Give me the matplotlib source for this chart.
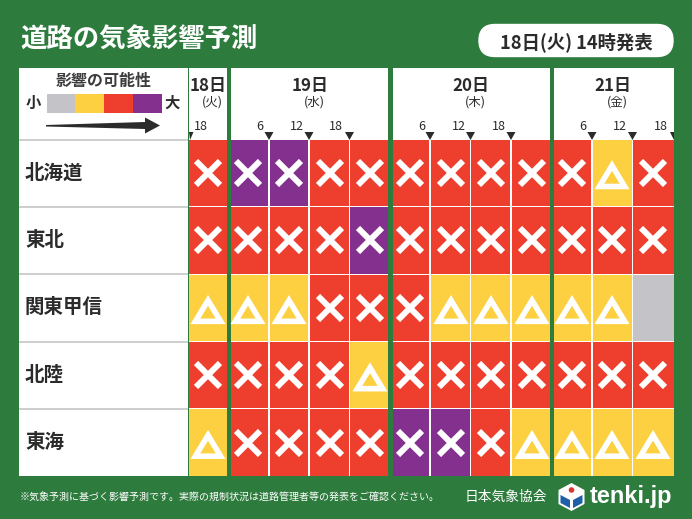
import matplotlib
matplotlib.use("Agg")
import matplotlib.pyplot as plt
from matplotlib.patches import Rectangle, FancyBboxPatch, Polygon, Circle
from matplotlib.path import Path

plt.rcParams['font.family'] = ['Noto Sans CJK JP', 'DejaVu Sans']

# ---- data ----
regions = ['北海道', '東北', '関東甲信', '北陸', '東海']
levels_hokkaido = [2, 3, 3, 2, 2, 2, 2, 2, 2, 2, 1, 2]
levels_tohoku = [2, 2, 2, 2, 3, 2, 2, 2, 2, 2, 2, 2]
levels_kanto = [1, 1, 1, 2, 2, 2, 1, 1, 1, 1, 1, 0]
levels_hokuriku = [2, 2, 2, 2, 1, 2, 2, 2, 2, 2, 2, 2]
levels_tokai = [1, 2, 2, 2, 2, 3, 3, 2, 1, 1, 1, 1]
all_levels = [levels_hokkaido, levels_tohoku, levels_kanto, levels_hokuriku, levels_tokai]
day_labels = ['18日', '19日', '20日', '21日']
weekday_labels = ['(火)', '(水)', '(木)', '(金)']
hour_labels = ['18', '6', '12', '18', '6', '12', '18', '6', '12', '18']
legend_title = '影響の可能性'
title = '道路の気象影響予測'
issued = '18日(火) 14時発表'
footnote = '※気象予測に基づく影響予測です。実際の規制状況は道路管理者等の発表をご確認ください。'
org = '日本気象協会'
brand = 'tenki.jp'

# ---- style ----
GREEN = '#2e7b3e'
COLORS = {0: '#c4c4c8', 1: '#fdd042', 2: '#ee3f2e', 3: '#83308f'}
DARK = '#2b2b2b'
W = 692
H = 519

fig = plt.figure(figsize=(W / 100, H / 100), dpi=100, facecolor=GREEN)
ax = fig.add_axes([0, 0, 1, 1])
ax.set_xlim(0, W)
ax.set_ylim(H, 0)
ax.axis('off')

# slot edges in pixels
edges = [(189, 226.5), (231, 269), (269, 309), (309, 349.5), (349.5, 388),
         (392.5, 430), (430, 470.5), (470.5, 511), (511, 549.5),
         (554, 592), (592, 632.5), (632.5, 674)]
centers = [208, 248, 289, 330, 370, 410, 451, 491, 532, 572, 612, 653]
day_blocks = [(189, 226.5), (231, 388), (392.5, 549.5), (554, 674)]
day_cx = [208, 310, 471, 612.5]
tops = [140, 207.2, 274.7, 342.2, 409.4]
bots = [206, 273.5, 341, 408.2, 476]

tri_path = Path([(-1, -0.83), (1, -0.83), (0, 0.83), (-1, -0.83)], closed=True)

# title
ax.text(20, 40, title, color='white', fontsize=19, fontweight='bold', va='center', ha='left')
# issued pill
ax.add_patch(FancyBboxPatch((479, 24.5), 194, 32, boxstyle='round,pad=0,rounding_size=16',
                            fc='white', ec='white', lw=1))
ax.text(576, 42.5, issued, color=DARK, fontsize=13.2, fontweight='bold', va='center', ha='center')

# left panel
ax.add_patch(Rectangle((19, 67.5), 169, 408.5, fc='white', ec='none'))
for y in [139.5, 206.5, 274, 341.5, 408.5]:
    ax.plot([19, 188], [y, y], color='#c6c6c6', lw=1.2, solid_capstyle='butt')
# legend
ax.text(104, 81, legend_title, color='#3c3c3c', fontsize=11.5, fontweight='bold', ha='center', va='center')
ax.text(33, 103, '小', color=DARK, fontsize=11, fontweight='bold', ha='center', va='center')
ax.text(172, 103, '大', color=DARK, fontsize=11, fontweight='bold', ha='center', va='center')
for i, lev in enumerate(sorted(COLORS)):
    ax.add_patch(Rectangle((46.5 + i * 28.8, 94), 28.8, 19, fc=COLORS[lev], ec='none'))
ax.add_patch(Polygon([(46, 125), (145, 122), (145, 117.5), (160, 125.5), (145, 133.5), (145, 129), (46, 126.5)],
                     fc=DARK, ec='none'))

# header blocks and white grid backing
for (x0, x1), d, wd, cx in zip(day_blocks, day_labels, weekday_labels, day_cx):
    ax.add_patch(Rectangle((x0, 67.5), x1 - x0, 408.5, fc='white', ec='none'))
    ax.text(cx, 85.5, d, color=DARK, fontsize=12.2, fontweight='bold', ha='center', va='center')
    ax.text(cx + 4.5, 102.5, wd, color=DARK, fontsize=9, ha='center', va='center')

# hour ticks
tick_x = [190, 269, 309, 349.5, 430, 470.5, 511, 592, 632.5, 674]
lab_x = [201, 260, 297, 336, 422, 459, 499, 583, 620, 661]
for tx, lx_, lab in zip(tick_x, lab_x, hour_labels):
    ax.text(lx_, 126.5, lab, color=DARK, fontsize=9, ha='center', va='center')
    x0 = tx - 4.5
    x1 = tx + 4.5
    if tx == 190:
        x0 = 189
        x1 = 193.5
    if tx == 674:
        x1 = 674
    ax.add_patch(Polygon([(x0, 132), (x1, 132), (tx, 140)], fc=DARK, ec='none'))

# rows
for r, (name, levs) in enumerate(zip(regions, all_levels)):
    cy = (tops[r] + bots[r]) / 2
    ax.text(25, cy, name, color=DARK, fontsize=14, fontweight='bold', ha='left', va='center')
    for c, lev in enumerate(levs):
        x0, x1 = edges[c]
        left = x0 + (0.6 if c in (2, 3, 4, 6, 7, 8, 10, 11) else 0)
        right = x1 - (0.6 if c in (1, 2, 3, 5, 6, 7, 9, 10) else 0)
        ax.add_patch(Rectangle((left, tops[r]), right - left, bots[r] - tops[r], fc=COLORS[lev], ec='none'))
        if lev >= 2:
            ax.plot(centers[c], cy, marker='x', ms=17, mew=4.3, color='white', ls='none')
        elif lev == 1:
            ax.scatter([centers[c]], [cy + 3], marker=tri_path, s=330, facecolors='none',
                       edgecolors='white', linewidths=4, joinstyle='miter', zorder=3)

# footer
ax.text(20, 497, footnote, color='white', fontsize=7.18, ha='left', va='center')
ax.text(465, 497, org, color='white', fontsize=9.9, ha='left', va='center')
# logo
lx, ly = 571.5, 497
ax.add_patch(Polygon([(lx, ly - 14), (lx + 13, ly - 7), (lx + 13, ly + 7), (lx, ly + 14), (lx - 13, ly + 7), (lx - 13, ly - 7)],
                     fc='white', ec='none'))
ax.add_patch(Polygon([(lx + 1.5, ly + 3), (lx + 11, ly - 2), (lx + 11, ly + 6), (lx + 1.5, ly + 11)], fc='#1f5fa8', ec='none'))
ax.add_patch(Polygon([(lx - 1.5, ly + 3), (lx - 11, ly - 2), (lx - 11, ly + 6), (lx - 1.5, ly + 11)], fc='#1f5fa8', ec='none'))
ax.add_patch(Circle((lx, ly - 7), 2.8, fc='#e0352b', ec='none'))
ax.text(590, 497, brand, color='white', fontsize=17, fontweight='bold', family='Liberation Sans', ha='left', va='center')

fig.savefig('out.png', dpi=100, facecolor=GREEN)
